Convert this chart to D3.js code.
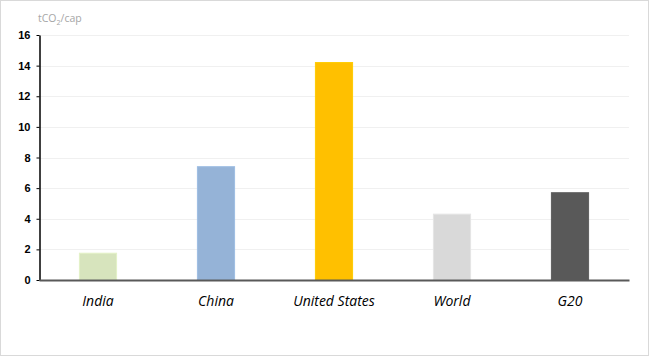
<!DOCTYPE html>
<html>
<head>
<meta charset="utf-8">
<script src="https://cdn.jsdelivr.net/npm/d3@7"></script>
<style>
  body { margin: 0; background: #fff; }
  svg { display: block; }
</style>
</head>
<body>
<div id="chart"></div>
<script>
// chart data
var categories = ["India", "China", "United States", "World", "G20"];
var values = [1.75, 7.4, 14.2, 4.3, 5.7];
var colors = ["#d7e4bd", "#95b3d7", "#ffc000", "#d9d9d9", "#595959"];
var yTicks = [0, 2, 4, 6, 8, 10, 12, 14, 16];

var W = 650, H = 357;
var margin = {left: 39, right: 21, top: 35, bottom: 77};

var svg = d3.select("#chart").append("svg")
  .attr("width", W).attr("height", H);

// outer frame
svg.append("rect")
  .attr("x", 0.5).attr("y", 0.5)
  .attr("width", W - 2).attr("height", H - 2)
  .attr("fill", "#fff")
  .attr("stroke", "#d9d9d9");

var x = d3.scaleBand()
  .domain(categories)
  .range([margin.left, W - margin.right])
  .paddingInner(0.685)
  .paddingOuter(0.3425);

var y = d3.scaleLinear()
  .domain([0, 16])
  .range([H - margin.bottom, margin.top]);

// gridlines
svg.append("g")
  .selectAll("line")
  .data(yTicks.filter(function(d) { return d > 0; }))
  .enter().append("line")
  .attr("x1", margin.left).attr("x2", W - margin.right)
  .attr("y1", function(d) { return Math.round(y(d)) + 0.5; })
  .attr("y2", function(d) { return Math.round(y(d)) + 0.5; })
  .attr("stroke", "#f0f0f0")
  .attr("stroke-width", 1);

// bars
svg.append("g")
  .selectAll("rect")
  .data(values)
  .enter().append("rect")
  .attr("x", function(d, i) { return x(categories[i]); })
  .attr("y", function(d) { return y(d); })
  .attr("width", x.bandwidth())
  .attr("height", function(d) { return y(0) - y(d); })
  .attr("fill", function(d, i) { return colors[i]; })
  .attr("stroke", function(d, i) { return d3.color(colors[i]).brighter(0.15); })
  .attr("stroke-width", 1);

// y axis
var yAxis = d3.axisLeft(y).tickValues(yTicks).tickSize(3).tickSizeOuter(0);
var gy = svg.append("g")
  .attr("transform", "translate(" + (margin.left + 0.5) + ",0)")
  .call(yAxis);
gy.select(".domain").attr("stroke", "#000").attr("stroke-width", 1.5);
gy.selectAll(".tick line").attr("stroke", "#000");
gy.selectAll(".tick text")
  .attr("x", -9)
  .style("font-family", "Liberation Sans, Arial, sans-serif")
  .style("font-size", "11px")
  .style("font-weight", "bold")
  .attr("fill", "#000");

// x axis
var xAxis = d3.axisBottom(x).tickSize(0).tickSizeOuter(0);
var gx = svg.append("g")
  .attr("transform", "translate(0," + y(0) + ")")
  .call(xAxis);
gx.select(".domain").attr("stroke", "#595959").attr("stroke-width", 2);
gx.selectAll(".tick text")
  .attr("dy", "1.1em")
  .attr("y", 11)
  .style("font-family", "Open Sans, sans-serif")
  .style("font-size", "14px")
  .style("font-style", "italic")
  .attr("fill", "#000");

// unit label
var unit = svg.append("text")
  .attr("x", 38).attr("y", 22)
  .style("font-family", "Open Sans, sans-serif")
  .style("font-size", "10.5px")
  .attr("fill", "#a6a6a6");
unit.append("tspan").text("tCO");
unit.append("tspan").text("2").attr("dy", 3).style("font-size", "7px");
unit.append("tspan").text("/cap").attr("dy", -3);
</script>
</body>
</html>
